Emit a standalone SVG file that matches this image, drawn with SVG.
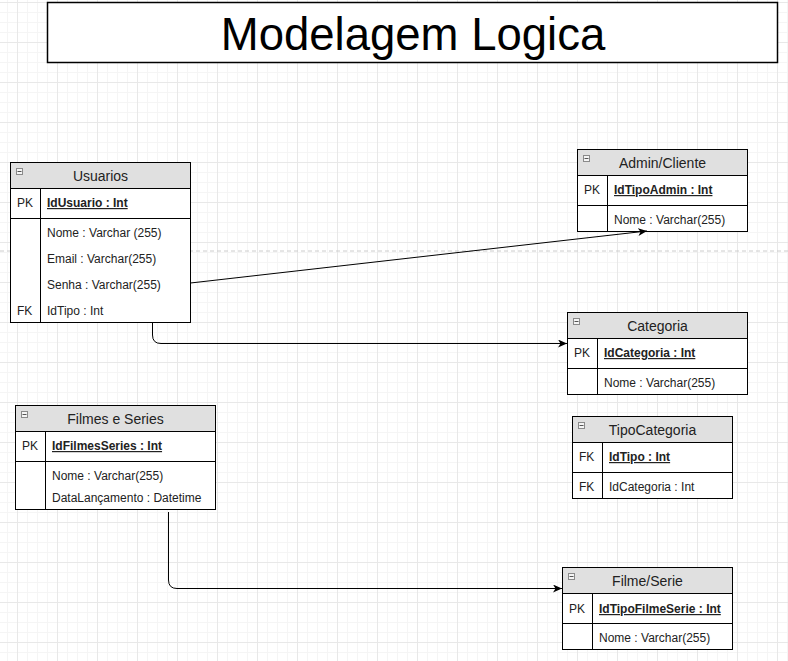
<svg xmlns="http://www.w3.org/2000/svg" width="788" height="661" viewBox="0 0 788 661">
<style>
  text { font-family: "Liberation Sans", Arial, sans-serif; fill: #222; }
  .hdr { font-size: 14px; text-anchor: middle; }
  .row { font-size: 12px; }
  .key { font-size: 12px; font-weight: bold; text-decoration: underline; }
  .box { fill: #ffffff; stroke: #000; stroke-width: 1; }
  .head { fill: #e0e0e0; stroke: #000; stroke-width: 1; }
  .ln { stroke: #000; stroke-width: 1; fill: none; }
  .icon { fill: #f5f5f5; stroke: #8a8a8a; stroke-width: 1; }
  .iconm { stroke: #555; stroke-width: 1; }
  .conn { stroke: #000; stroke-width: 1; fill: none; marker-end: url(#arrow); }
</style>
<defs>
  <pattern id="grid" width="40" height="40" patternUnits="userSpaceOnUse" x="17" y="2">
    <path d="M10.5 0V40M20.5 0V40M30.5 0V40M0 10.5H40M0 20.5H40M0 30.5H40" stroke="#f5f5f5" stroke-width="1"/>
    <path d="M0.5 0V40M0 0.5H40" stroke="#e8e8e8" stroke-width="1"/>
  </pattern>
  <marker id="arrow" markerWidth="10" markerHeight="8" refX="9" refY="4" orient="auto" markerUnits="userSpaceOnUse">
    <path d="M0,0 L9,4 L0,8 L2.5,4 Z" fill="#000"/>
  </marker>
</defs>
<rect width="788" height="661" fill="#ffffff"/>
<rect width="788" height="661" fill="url(#grid)"/>
<line x1="0" y1="251" x2="788" y2="251" stroke="#cccccc" stroke-width="1" stroke-dasharray="4 3"/>

<g id="title">
  <rect x="47.5" y="2.5" width="730" height="60" fill="#ffffff" stroke="#000" stroke-width="1.5"/>
  <text x="413" y="50" font-size="45.5" text-anchor="middle" style="fill:#000">Modelagem Logica</text>
</g>

<g id="usuarios">
  <rect class="head" x="10.5" y="162.5" width="180" height="26"/>
  <rect class="box" x="10.5" y="188.5" width="180" height="134"/>
  <line class="ln" x1="10.5" y1="218.5" x2="190.5" y2="218.5"/>
  <line class="ln" x1="40.5" y1="188.5" x2="40.5" y2="322.5"/>
  <rect class="icon" x="16.5" y="168.5" width="6" height="6"/>
  <line class="iconm" x1="17.5" y1="171.5" x2="21.5" y2="171.5"/>
  <text class="hdr" x="100.5" y="181">Usuarios</text>
  <text class="row" x="17" y="207">PK</text>
  <text class="key" x="47" y="207">IdUsuario : Int</text>
  <text class="row" x="47" y="237">Nome : Varchar (255)</text>
  <text class="row" x="47" y="263">Email : Varchar(255)</text>
  <text class="row" x="47" y="289">Senha : Varchar(255)</text>
  <text class="row" x="17" y="315">FK</text>
  <text class="row" x="47" y="315">IdTipo : Int</text>
</g>

<g id="admin-cliente">
  <rect class="head" x="577.5" y="149.5" width="170" height="26"/>
  <rect class="box" x="577.5" y="175.5" width="170" height="56"/>
  <line class="ln" x1="577.5" y1="205.5" x2="747.5" y2="205.5"/>
  <line class="ln" x1="607.5" y1="175.5" x2="607.5" y2="231.5"/>
  <rect class="icon" x="583.5" y="155.5" width="6" height="6"/>
  <line class="iconm" x1="584.5" y1="158.5" x2="588.5" y2="158.5"/>
  <text class="hdr" x="662.5" y="168">Admin/Cliente</text>
  <text class="row" x="584" y="194">PK</text>
  <text class="key" x="614" y="194">IdTipoAdmin : Int</text>
  <text class="row" x="614" y="224">Nome : Varchar(255)</text>
</g>

<g id="categoria">
  <rect class="head" x="567.5" y="312.5" width="180" height="26"/>
  <rect class="box" x="567.5" y="338.5" width="180" height="56"/>
  <line class="ln" x1="567.5" y1="368.5" x2="747.5" y2="368.5"/>
  <line class="ln" x1="597.5" y1="338.5" x2="597.5" y2="394.5"/>
  <rect class="icon" x="573.5" y="318.5" width="6" height="6"/>
  <line class="iconm" x1="574.5" y1="321.5" x2="578.5" y2="321.5"/>
  <text class="hdr" x="657.5" y="331">Categoria</text>
  <text class="row" x="574" y="357">PK</text>
  <text class="key" x="604" y="357">IdCategoria : Int</text>
  <text class="row" x="604" y="387">Nome : Varchar(255)</text>
</g>

<g id="filmes-e-series">
  <rect class="head" x="15.5" y="405.5" width="200" height="26"/>
  <rect class="box" x="15.5" y="431.5" width="200" height="78"/>
  <line class="ln" x1="15.5" y1="461.5" x2="215.5" y2="461.5"/>
  <line class="ln" x1="45.5" y1="431.5" x2="45.5" y2="509.5"/>
  <rect class="icon" x="21.5" y="411.5" width="6" height="6"/>
  <line class="iconm" x1="22.5" y1="414.5" x2="26.5" y2="414.5"/>
  <text class="hdr" x="115.5" y="424">Filmes e Series</text>
  <text class="row" x="22" y="450">PK</text>
  <text class="key" x="52" y="450">IdFilmesSeries : Int</text>
  <text class="row" x="52" y="480">Nome : Varchar(255)</text>
  <text class="row" x="52" y="502">DataLançamento : Datetime</text>
</g>

<g id="tipocategoria">
  <rect class="head" x="572.5" y="416.5" width="160" height="26"/>
  <rect class="box" x="572.5" y="442.5" width="160" height="56"/>
  <line class="ln" x1="572.5" y1="472.5" x2="732.5" y2="472.5"/>
  <line class="ln" x1="602.5" y1="442.5" x2="602.5" y2="498.5"/>
  <rect class="icon" x="578.5" y="422.5" width="6" height="6"/>
  <line class="iconm" x1="579.5" y1="425.5" x2="583.5" y2="425.5"/>
  <text class="hdr" x="652.5" y="435">TipoCategoria</text>
  <text class="row" x="579" y="461">FK</text>
  <text class="key" x="609" y="461">IdTipo : Int</text>
  <text class="row" x="579" y="491">FK</text>
  <text class="row" x="609" y="491">IdCategoria : Int</text>
</g>

<g id="filme-serie">
  <rect class="head" x="562.5" y="567.5" width="170" height="26"/>
  <rect class="box" x="562.5" y="593.5" width="170" height="56"/>
  <line class="ln" x1="562.5" y1="623.5" x2="732.5" y2="623.5"/>
  <line class="ln" x1="592.5" y1="593.5" x2="592.5" y2="649.5"/>
  <rect class="icon" x="568.5" y="573.5" width="6" height="6"/>
  <line class="iconm" x1="569.5" y1="576.5" x2="573.5" y2="576.5"/>
  <text class="hdr" x="647.5" y="586">Filme/Serie</text>
  <text class="row" x="569" y="613">PK</text>
  <text class="key" x="599" y="613">IdTipoFilmeSerie : Int</text>
  <text class="row" x="599" y="642">Nome : Varchar(255)</text>
</g>

<g id="connectors">
  <path class="conn" d="M190.5 283 L647 231"/>
  <path class="conn" d="M152.5 322.5 V335 Q152.5 343.5 161 343.5 H567"/>
  <path class="conn" d="M168.5 512 V580 Q168.5 588.5 177 588.5 H562"/>
</g>
</svg>
